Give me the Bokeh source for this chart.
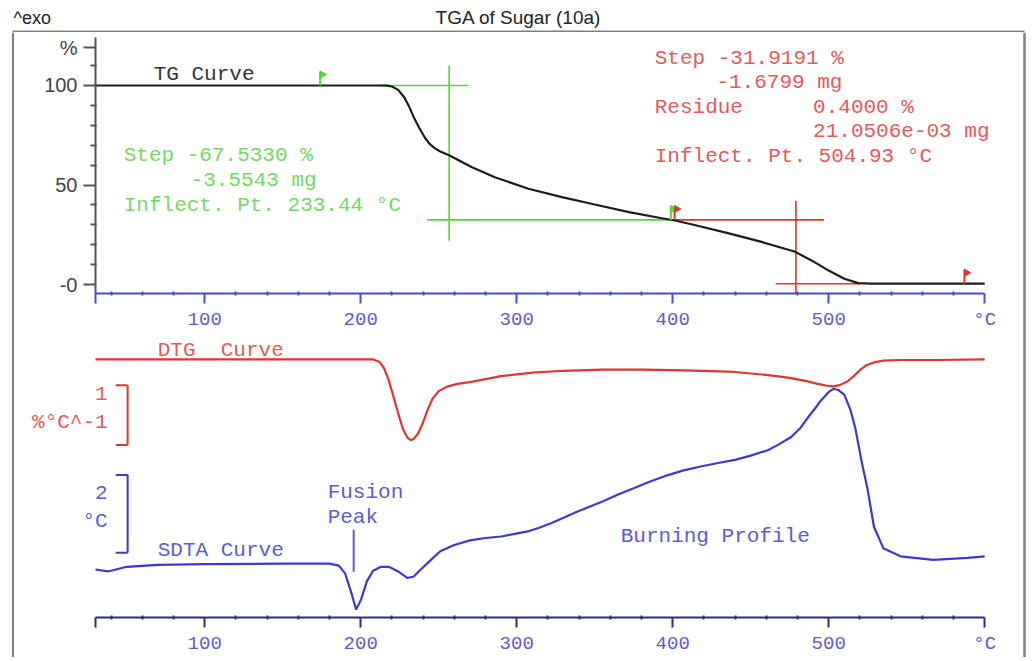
import numpy as np
from bokeh.plotting import figure
from bokeh.models import Range1d, FixedTicker
from bokeh.layouts import column, row
from bokeh.embed import file_html
from bokeh.resources import INLINE
from bokeh.core.properties import value

# ---------------- data ----------------
tg_temp = [30, 100, 150, 200, 212, 217, 220, 224, 228, 231, 234, 237.5, 241, 244, 247, 251, 257,
           271, 286, 307.5, 329, 350, 372, 393, 400, 414, 436, 457, 478, 489, 500, 510, 519, 527, 550, 600]
tg_pct = [100, 100, 100, 100, 100, 99.9, 99.5, 97.8, 94, 89.5, 84.1, 78.8, 74, 70.8, 68.8, 66.8, 64.8,
          59, 53.9, 48.1, 43.9, 40.2, 36.4, 33.3, 32.4, 29.9, 25.7, 21.4, 16.6, 12.1, 7, 2.9, 0.7, 0.4, 0.4, 0.4]

dtg_temp = [30, 100, 150, 200, 208, 212, 215, 218, 221, 224, 227, 230, 232, 234, 237, 240, 243, 246, 250, 255,
            262, 270, 280, 290, 310, 330, 355, 380, 400, 420, 440, 460, 475, 485, 493, 499, 503, 507, 512, 516,
            520, 524, 529, 535, 546, 570, 600]
dtg_val = [0, 0, 0, 0, 0, -0.04, -0.15, -0.35, -0.62, -0.9, -1.16, -1.31, -1.35, -1.33, -1.23, -1.05, -0.84, -0.66, -0.53, -0.46,
           -0.41, -0.38, -0.33, -0.28, -0.22, -0.19, -0.17, -0.17, -0.18, -0.19, -0.21, -0.26, -0.31, -0.36, -0.41, -0.44, -0.45, -0.43, -0.37, -0.28,
           -0.18, -0.1, -0.05, -0.02, -0.01, -0.01, 0]

sdta_temp = [30, 38, 50, 70, 100, 150, 180, 186, 190, 194, 197, 200, 204, 208, 213, 218, 224, 230, 234, 238,
             243, 251, 260, 270, 280, 290, 298, 307, 314, 322, 330, 339, 347, 355, 365, 375, 386, 397, 407, 418,
             429, 440, 450, 461, 468, 476, 482, 487, 491, 495, 498, 500, 503, 506, 510, 514, 517, 521, 525, 529,
             535, 546, 567, 589, 600]
sdta_val = [-0.15, -0.2, -0.08, -0.03, -0.01, 0, 0, -0.05, -0.25, -0.75, -1.18, -0.95, -0.45, -0.18, -0.08, -0.08, -0.2, -0.37, -0.33, -0.17,
            0.02, 0.32, 0.48, 0.6, 0.66, 0.7, 0.76, 0.83, 0.92, 1.04, 1.18, 1.34, 1.47, 1.6, 1.78, 1.94, 2.12, 2.28, 2.4, 2.5,
            2.59, 2.67, 2.78, 2.92, 3.07, 3.26, 3.5, 3.78, 3.98, 4.2, 4.33, 4.42, 4.5, 4.47, 4.35, 3.95, 3.5, 2.65, 1.9, 0.95,
            0.4, 0.19, 0.1, 0.15, 0.19]

x_major = [30, 100, 200, 300, 400, 500, 600]
x_minor = [40, 60, 80, 120, 140, 160, 180, 220, 240, 260, 280, 320, 340, 360, 380,
           420, 440, 460, 480, 520, 540, 560, 580]
x_labels = {30: "", 600: "°C"}
tg_major = [0, 50, 100, 119]
tg_minor = [10, 20, 30, 40, 60, 70, 80, 90, 110]
tg_labels = {0: "-0", 119: "%"}

# evaluation (step) constructions
step1_level = [100, 32.47]
step1_inflect_T = 256.7
step2_level = [32.47, 0.4]
step2_inflect_T = 479
flag_temp = [174, 400, 400, 587]
flag_base = [100, 32.47, 32.47, 0.4]

title_text = "TGA of Sugar (10a)"
green_lines = ["Step -67.5330 %", "-3.5543 mg", "Inflect. Pt. 233.44 °C"]
red_lines = ["Step -31.9191 %", "-1.6799 mg", "Residue", "0.4000 %", "21.0506e-03 mg", "Inflect. Pt. 504.93 °C"]

# ---------------- style ----------------
MONO = "Liberation Mono"
SANS = "Liberation Sans"
GREEN_LINE = "#52d83c"
GREEN_TEXT = "#74d865"
RED_LINE = "#e0362e"
RED_TEXT = "#e65a58"
BLUE = "#3a3ad0"
BLUE_TEXT = "#5c5cd6"
AXIS_TOP = "#4a4ad0"
AXIS_BOT = "#2e2e78"
FRAME = "#808080"
TS = "21px"
PX_PER_C = 1.56


def blank(w, h, xr, yr):
    f = figure(width=w, height=h, x_range=Range1d(*xr), y_range=Range1d(*yr), output_backend="svg",
               toolbar_location=None, x_axis_location=None, y_axis_location=None, frame_align=False,
               min_border=0, min_border_left=0, min_border_right=0, min_border_top=0, min_border_bottom=0)
    f.grid.visible = False
    f.outline_line_color = None
    return f


def style_xaxis(ax, col):
    ax.ticker = FixedTicker(ticks=x_major, minor_ticks=x_minor)
    ax.major_label_overrides = x_labels
    ax.bounds = (30, 600)
    ax.axis_line_color = col
    ax.axis_line_width = 2
    ax.major_tick_line_color = col
    ax.major_tick_line_width = 2
    ax.major_tick_in = 0
    ax.major_tick_out = 10
    ax.minor_tick_line_color = col
    ax.minor_tick_line_width = 2
    ax.minor_tick_in = 2
    ax.minor_tick_out = 2
    ax.major_label_text_font = MONO
    ax.major_label_text_font_size = "19px"
    ax.major_label_text_color = BLUE_TEXT
    ax.major_label_standoff = 5


# ---------------- header strip ----------------
p0 = blank(1035, 32, (0, 1035), (32, 0))
p0.text(x=[13], y=[17], text=["^exo"], text_font=value(SANS), text_font_size="18px",
        text_color="#222222", text_baseline="middle", text_align="left")
p0.text(x=[518], y=[17], text=[title_text], text_font=value(SANS), text_font_size="19px",
        text_color="#222222", text_baseline="middle", text_align="center")
p0.segment(x0=[12], y0=[31], x1=[1024], y1=[31], line_color=FRAME, line_width=2)

# side strips carrying the frame edges
pl = blank(14, 625, (0, 14), (0, 625))
pl.segment(x0=[12.5], y0=[0], x1=[12.5], y1=[625], line_color=FRAME, line_width=2)
pr = blank(17, 625, (0, 17), (0, 625))
pr.segment(x0=[6], y0=[0], x1=[6], y1=[625], line_color=FRAME, line_width=2.5)
pb = blank(1035, 4, (0, 1035), (4, 0))
pb.segment(x0=[12], y0=[2], x1=[1024], y1=[2], line_color=FRAME, line_width=2)
pb.segment(x0=[12.5, 1024], y0=[0, 0], x1=[12.5, 1024], y1=[2, 2], line_color=FRAME, line_width=2)

# ---------------- top figure: TG ----------------
x1_end = 30 + (1018 - 95) / PX_PER_C
p1 = figure(width=1004, height=304, output_backend="svg", toolbar_location=None, frame_align=False,
            x_range=Range1d(30, x1_end), y_range=Range1d(-4.52, 126.63),
            min_border_left=81, min_border_right=0, min_border_top=0, min_border_bottom=43)
p1.xgrid.visible = False
p1.ygrid.visible = False
p1.outline_line_color = None
style_xaxis(p1.xaxis[0], AXIS_TOP)
ya = p1.yaxis[0]
ya.ticker = FixedTicker(ticks=tg_major, minor_ticks=tg_minor)
ya.major_label_overrides = tg_labels
ya.bounds = (-4.52, 124)
ya.axis_line_color = "#555555"
ya.axis_line_width = 2
ya.major_tick_line_color = "#555555"
ya.major_tick_line_width = 2
ya.major_tick_in = 0
ya.major_tick_out = 12
ya.minor_tick_line_color = "#555555"
ya.minor_tick_line_width = 2
ya.minor_tick_in = 1
ya.minor_tick_out = 5
ya.major_label_text_font = SANS
ya.major_label_text_font_size = "20px"
ya.major_label_text_color = "#444444"
ya.major_label_standoff = 6

# step 1 (green) construction
p1.segment(x0=[210, 242.6, step1_inflect_T], y0=[step1_level[0], step1_level[1], 110],
           x1=[269, 400, step1_inflect_T], y1=[step1_level[0], step1_level[1], 22],
           line_color=GREEN_LINE, line_width=1.6)
# step 2 (red) construction
p1.segment(x0=[400, 466, step2_inflect_T], y0=[step2_level[0], step2_level[1], 42],
           x1=[497, 520, step2_inflect_T], y1=[step2_level[0], step2_level[1], -9],
           line_color=RED_LINE, line_width=1.6)

p1.line(tg_temp, tg_pct, line_color="#1c1c1c", line_width=2.2)

# limit flags
flag_cols = [GREEN_LINE, GREEN_LINE, RED_LINE, RED_LINE]
flag_top = [b + 7 for b in flag_base]
flag_dx = [0, -1.2, 1.2, 0]
p1.segment(x0=[t + d for t, d in zip(flag_temp, flag_dx)], y0=flag_base,
           x1=[t + d for t, d in zip(flag_temp, flag_dx)], y1=flag_top,
           line_color=flag_cols, line_width=2)
p1.scatter([t + d + 1.4 for t, d in zip(flag_temp, flag_dx)], [v - 1.5 for v in flag_top],
           marker="triangle", angle=-np.pi / 2, size=7, fill_color=flag_cols, line_color=flag_cols)

# texts
p1.text(x=[67.3], y=[105.5], text=["TG Curve"], text_font=value(MONO), text_font_size=TS,
        text_color="#333333", text_baseline="middle")
p1.text(x=[48.1, 91, 48.1], y=[64.8, 52.3, 39.7], text=green_lines, text_font=value(MONO),
        text_font_size=TS, text_color=GREEN_TEXT, text_baseline="middle")
p1.text(x=[388.5, 428, 388.5, 490, 490, 388.5], y=[113.6, 101.5, 88.9, 88.9, 76.9, 64.3], text=red_lines,
        text_font=value(MONO), text_font_size=TS, text_color=RED_TEXT, text_baseline="middle")

# ---------------- bottom figure: DTG + SDTA ----------------
x2_start = 30 - (95 - 14) / PX_PER_C
p2 = figure(width=1004, height=321, output_backend="svg", toolbar_location=None, frame_align=False,
            x_range=Range1d(x2_start, x1_end), y_range=Range1d(-4.3167, 0.3833), y_axis_location=None,
            min_border_left=0, min_border_right=0, min_border_top=0, min_border_bottom=39)
p2.extra_y_ranges = {"sdta": Range1d(-1.385, 5.846)}
p2.xgrid.visible = False
p2.ygrid.visible = False
p2.outline_line_color = None
style_xaxis(p2.xaxis[0], AXIS_BOT)

p2.line(dtg_temp, dtg_val, line_color=RED_LINE, line_width=2.2)
p2.line(sdta_temp, sdta_val, line_color=BLUE, line_width=2.2, y_range_name="sdta")

# scale bars: 1 %/°C and 2 °C
p2.segment(x0=[50.6, 43, 43], y0=[-0.433, -0.433, -1.433], x1=[50.6, 50.6, 50.6], y1=[-1.433, -0.433, -1.433],
           line_color=RED_LINE, line_width=2)
p2.segment(x0=[50.6, 43, 43], y0=[2.28, 2.28, 0.28], x1=[50.6, 50.6, 50.6], y1=[0.28, 2.28, 0.28],
           line_color=BLUE, line_width=2, y_range_name="sdta")
# fusion marker
p2.segment(x0=[195.5], y0=[0.87], x1=[195.5], y1=[-0.21], line_color=BLUE_TEXT, line_width=2,
           y_range_name="sdta")

p2.text(x=[37.8, 37.8], y=[-0.567, -1.05], text=["1", "%°C^-1"], text_font=value(MONO), text_font_size=TS,
        text_color=RED_TEXT, text_baseline="middle", text_align="right")
p2.text(x=[37.8, 37.8], y=[1.82, 1.08], text=["2", "°C"], text_font=value(MONO), text_font_size=TS,
        text_color=BLUE_TEXT, text_baseline="middle", text_align="right", y_range_name="sdta")
p2.text(x=[69.9, 110.3], y=[0.15, 0.15], text=["DTG", "Curve"], text_font=value(MONO), text_font_size=TS,
        text_color=RED_TEXT, text_baseline="middle")
p2.text(x=[69.9, 178.8, 178.8, 366.7], y=[0.33, 1.82, 1.18, 0.69],
        text=["SDTA Curve", "Fusion", "Peak", "Burning Profile"], text_font=value(MONO), text_font_size=TS,
        text_color=BLUE_TEXT, text_baseline="middle", y_range_name="sdta")

layout = column(p0, row(pl, column(p1, p2, spacing=0), pr, spacing=0), pb, spacing=0)
open("out.html", "w").write(file_html(layout, INLINE))
